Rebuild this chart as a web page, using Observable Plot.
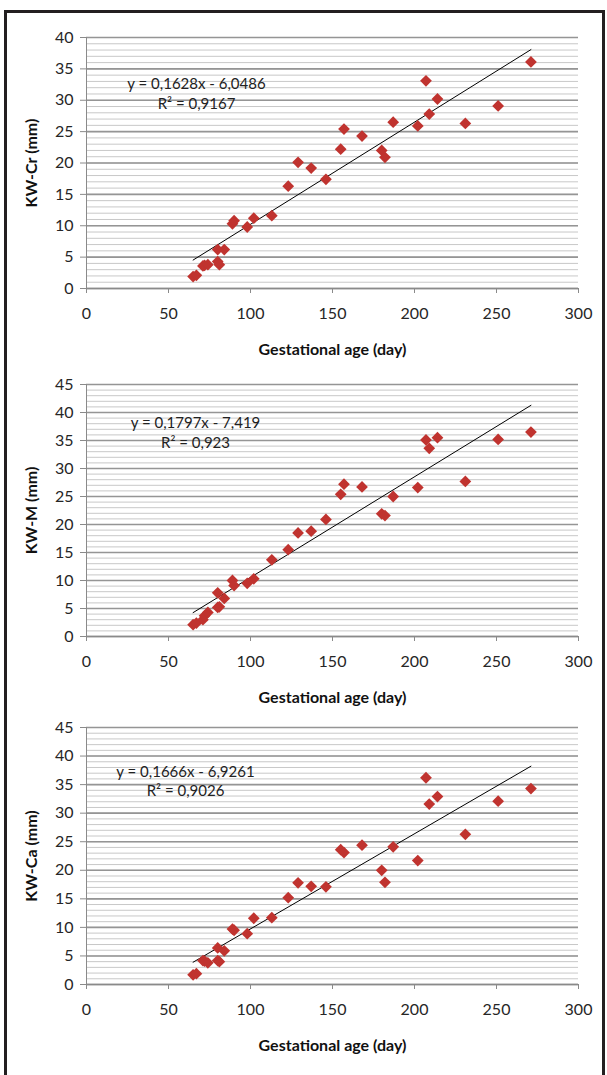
<!DOCTYPE html>
<html><head><meta charset="utf-8">
<script src="https://cdn.jsdelivr.net/npm/d3@7"></script>
<script src="https://cdn.jsdelivr.net/npm/@observablehq/plot@0.6"></script>
<style>
body{margin:0;background:#fff;}
#wrap{position:relative;width:607px;height:1075px;overflow:hidden;background:#fff;}
#frame{position:absolute;left:4px;top:10px;width:601px;height:1100px;border:3px solid #231f20;box-sizing:border-box;z-index:2;}
.panel{position:absolute;left:0;z-index:1;}
</style></head><body>
<div id="wrap"><div id="frame"></div></div>
<script>
// Gestational age (day), shared by all three panels
const days = [65, 67, 71, 72, 74, 80, 80, 81, 84, 89, 90, 98, 102, 113, 123, 129, 137, 146, 155, 157, 168, 180, 182, 187, 202, 207, 209, 214, 231, 251, 271];
// KW-Cr (mm)
const kwCr = [1.9, 2.1, 3.6, 3.7, 3.8, 6.2, 4.3, 3.8, 6.2, 10.3, 10.8, 9.8, 11.2, 11.6, 16.3, 20.1, 19.2, 17.4, 22.2, 25.4, 24.3, 22.0, 20.9, 26.5, 25.9, 33.1, 27.8, 30.2, 26.3, 29.1, 36.1];
// KW-M (mm)
const kwM = [2.1, 2.4, 3.0, 3.7, 4.3, 7.8, 5.2, 5.3, 6.8, 10.0, 9.1, 9.5, 10.3, 13.7, 15.5, 18.5, 18.8, 20.9, 25.4, 27.2, 26.7, 21.9, 21.6, 25.0, 26.6, 35.1, 33.6, 35.5, 27.7, 35.2, 36.5];
// KW-Ca (mm)
const kwCa = [1.7, 1.9, 4.2, 4.1, 3.8, 6.4, 4.2, 4.0, 5.9, 9.7, 9.5, 8.9, 11.6, 11.7, 15.2, 17.8, 17.2, 17.1, 23.6, 23.1, 24.4, 20.0, 17.9, 24.1, 21.7, 36.2, 31.6, 32.9, 26.3, 32.1, 34.3];

const yTitles = ["KW-Cr (mm)", "KW-M (mm)", "KW-Ca (mm)"];
const slopes = [0.1628, 0.1797, 0.1666];
const intercepts = [-6.0486, -7.419, -6.9261];
const equations = ["y = 0,1628x - 6,0486", "y = 0,1797x - 7,419", "y = 0,1666x - 6,9261"];
const r2Labels = ["R² = 0,9167", "R² = 0,923", "R² = 0,9026"];
const xTicks = [0, 50, 100, 150, 200, 250, 300];
const yTicks1 = [0, 5, 10, 15, 20, 25, 30, 35, 40];
const yTicks2 = [0, 5, 10, 15, 20, 25, 30, 35, 40, 45];
const xTitle = "Gestational age (day)";

const series = [kwCr, kwM, kwCa];
const yTickSets = [yTicks1, yTicks2, yTicks2];

// layout: [svgTop, height, marginTop, marginBottom, eqDx, eqDy, r2Dy]
const layout = [
  [0, 360, 37, 72, 110, 47, 67],
  [360, 348, 24, 72, 109, 39, 59],
  [708, 356, 19, 80, 99, 45, 64]
];

const FONT = "Lato, 'Open Sans', sans-serif";
const wrap = document.getElementById("wrap");

series.forEach((vals, i) => {
  const [top, height, mt, mb, eqDx, eqDy, r2Dy] = layout[i];
  const yTicks = yTickSets[i];
  const yMax = yTicks[yTicks.length - 1];
  const pts = days.map((d, j) => ({day: d, v: vals[j]}));
  const x0 = d3.min(days), x1 = d3.max(days);
  const trend = [x0, x1].map(d => ({day: d, v: slopes[i] * d + intercepts[i]}));
  const minor = d3.range(0, yMax + 1, 1);

  const chart = Plot.plot({
    width: 607,
    height,
    marginLeft: 86,
    marginRight: 29,
    marginTop: mt,
    marginBottom: mb,
    style: {fontFamily: FONT, fontSize: "16px", color: "#262626", background: "transparent"},
    x: {domain: [0, 300]},
    y: {domain: [0, yMax]},
    marks: [
      Plot.ruleY(minor, {stroke: "#c8c8c8", strokeWidth: 1}),
      Plot.ruleY(yTicks, {stroke: "#959595", strokeWidth: 1.6}),
      Plot.ruleX([0], {stroke: "#8a8a8a"}),
      Plot.ruleY([0], {stroke: "#8a8a8a", strokeWidth: 1.6}),
      Plot.axisY({ticks: yTicks, tickSize: 6, tickPadding: 7, label: null, stroke: "#8a8a8a", fontSize: 16}),
      Plot.axisX({ticks: xTicks, tickSize: 5, tickPadding: 14, label: null, stroke: "#8a8a8a", fontSize: 16}),
      Plot.line(trend, {x: "day", y: "v", stroke: "#000", strokeWidth: 1}),
      Plot.dot(pts, {x: "day", y: "v", symbol: "diamond2", r: 5.3, fill: "#c0332f", stroke: "none"}),
      Plot.text([equations[i]], {frameAnchor: "top-left", dx: eqDx, dy: eqDy, textAnchor: "middle", lineAnchor: "middle", fontSize: 15, fill: "#222"}),
      Plot.text([r2Labels[i]], {frameAnchor: "top-left", dx: eqDx, dy: r2Dy, textAnchor: "middle", lineAnchor: "middle", fontSize: 15, fill: "#222"}),
      Plot.text([xTitle], {frameAnchor: "bottom", dy: 61, textAnchor: "middle", lineAnchor: "middle", fontWeight: "bold", fontSize: 16, fill: "#111"}),
      Plot.text([yTitles[i]], {frameAnchor: "left", dx: -55, rotate: -90, textAnchor: "middle", lineAnchor: "middle", fontWeight: "bold", fontSize: 16, fill: "#111"})
    ]
  });
  chart.classList.add("panel");
  chart.style.top = top + "px";
  chart.style.position = "absolute";
  chart.style.left = "0px";
  wrap.appendChild(chart);
});
</script>
</body></html>
